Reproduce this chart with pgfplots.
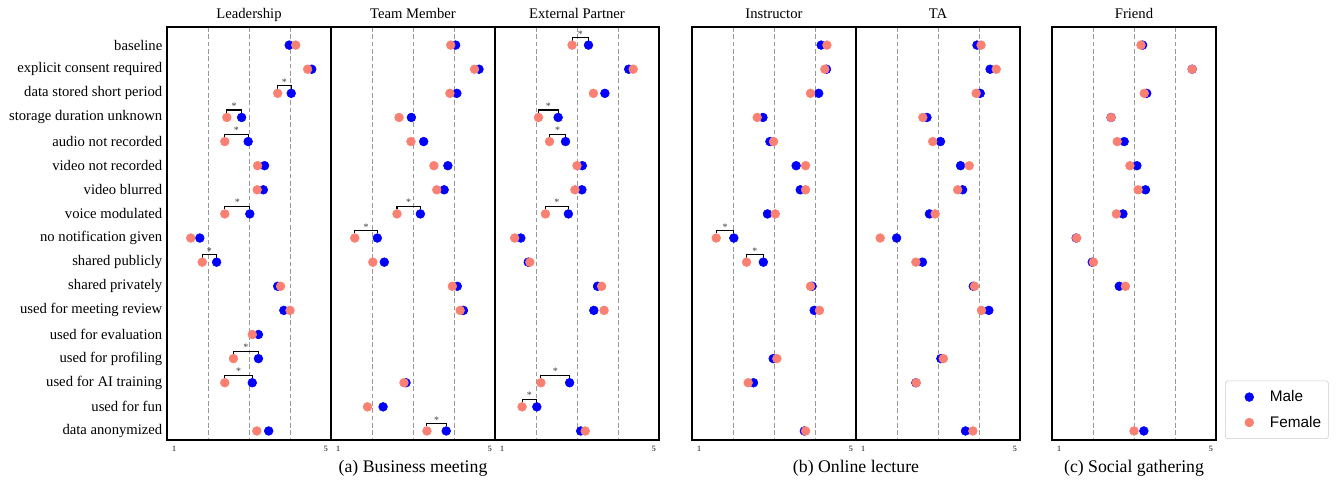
\documentclass[border=0pt]{standalone}
\usepackage{pgfplots}
\pgfplotsset{compat=1.18}
\usepackage{pgfplotstable}
\usepackage{fontspec}
\setmainfont{Liberation Serif}
\newfontfamily\legfont{Liberation Sans}
\definecolor{salmonc}{RGB}{250,128,114}

\pgfplotstableread{
r  lm   lf   tm   tf   em   ef   im   if   am   af   fm   ff
0  3.98 4.14 4.04 3.92 3.28 2.88 4.15 4.29 3.95 4.05 3.21 3.17
1  4.53 4.43 4.61 4.50 4.26 4.37 4.28 4.24 4.27 4.42 4.42 4.42
2  4.03 3.70 4.07 3.90 3.68 3.40 4.09 3.89 4.03 3.93 3.31 3.25
3  2.82 2.46 2.96 2.66 2.54 2.06 2.73 2.59 2.73 2.63 2.44 2.44
4  2.98 2.41 3.26 2.95 2.72 2.33 2.90 2.99 3.06 2.87 2.76 2.59
5  3.38 3.21 3.85 3.51 3.13 3.00 3.54 3.77 3.55 3.76 3.07 2.90
6  3.35 3.20 3.76 3.58 3.12 2.95 3.64 3.77 3.60 3.48 3.28 3.10
7  3.02 2.41 3.18 2.61 2.79 2.23 2.84 3.03 2.79 2.93 2.73 2.57
8  1.80 1.58 2.13 1.58 1.63 1.48 2.02 1.59 1.99 1.59 1.59 1.60
9  2.21 1.86 2.30 2.02 1.81 1.85 2.74 2.33 2.62 2.46 1.98 2.01
10 3.70 3.77 4.08 3.96 3.50 3.60 3.93 3.89 3.86 3.89 2.64 2.79
11 3.85 4.00 4.23 4.15 3.41 3.66 3.98 4.11 4.24 4.06 nan  nan
12 3.23 3.08 nan  nan  nan  nan  nan  nan  nan  nan  nan  nan
13 3.23 2.62 nan  nan  nan  nan  2.98 3.07 3.07 3.13 nan  nan
14 3.08 2.41 2.83 2.78 2.82 2.12 2.50 2.37 2.46 2.47 nan  nan
15 nan  nan  2.27 1.89 2.02 1.66 nan  nan  nan  nan  nan  nan
16 3.48 3.19 3.81 3.34 3.09 3.20 3.74 3.77 3.67 3.85 3.24 3.00
}\data

\newcommand{\sig}[3]{%
  \draw[black, line width=0.8pt] (axis cs:#2,{#1-0.19}) -- (axis cs:#2,{#1-0.31}) -- (axis cs:#3,{#1-0.31}) -- (axis cs:#3,{#1-0.19});
  \node[text=black!75, font=\fontsize{7.5}{8}\selectfont, inner sep=0pt, anchor=base] at (axis cs:{(#2+#3)/2},{#1-0.33}) {*};%
}

\pgfplotsset{
  panel/.style={
    scale only axis, width=123pt, height=309.75pt, anchor=north west,
    xmin=1, xmax=5, ymin=-0.75, ymax=16.375, y dir=reverse,
    xtick={2,3,4}, xticklabels={}, xmajorgrids,
    grid style={dash pattern=on 3.5pt off 2pt, black!40, line width=0.6pt},
    ytick=\empty, major tick length=0pt,
    axis line style={line width=0.9pt}, clip=false,
  },
  male/.style={only marks, mark=*, mark size=3.3pt, color=blue, mark options={draw=none, fill=blue}},
  female/.style={only marks, mark=*, mark size=3.3pt, color=salmonc, mark options={draw=none, fill=salmonc}},
}

\newcommand{\paneldeco}[2]{%
  \node[font=\fontsize{11}{13}\selectfont, anchor=base] at ([yshift=6.5pt]#1.north) {#2};
  \node[font=\fontsize{6}{7}\selectfont, anchor=north west, inner sep=0pt] at ([xshift=3.6pt,yshift=-4.4pt]#1.south west) {1};
  \node[font=\fontsize{6}{7}\selectfont, anchor=north east, inner sep=0pt] at ([xshift=-2.2pt,yshift=-4.4pt]#1.south east) {5};
}

\begin{document}
\begin{tikzpicture}
\path[use as bounding box] (0,0) rectangle (1003.5pt,-362.25pt);

% ---- (a) Business meeting ----
\begin{axis}[panel, name=p1, at={(125.25pt,-20.25pt)},
  ytick={0,...,16},
  yticklabels={baseline, explicit consent required, data stored short period, storage duration unknown, audio not recorded, video not recorded, video blurred, voice modulated, no notification given, shared publicly, shared privately, used for meeting review, used for evaluation, used for profiling, used for AI training, used for fun, data anonymized},
  yticklabel style={font=\fontsize{11}{13}\selectfont}]
\addplot[male] table[x=lm,y=r]{\data};
\addplot[female] table[x=lf,y=r]{\data};
\sig{2}{3.70}{4.03}
\sig{3}{2.46}{2.82}
\sig{4}{2.41}{2.98}
\sig{7}{2.41}{3.02}
\sig{9}{1.86}{2.21}
\sig{13}{2.62}{3.23}
\sig{14}{2.41}{3.08}
\end{axis}

\begin{axis}[panel, name=p2, at={(248.25pt,-20.25pt)}]
\addplot[male] table[x=tm,y=r]{\data};
\addplot[female] table[x=tf,y=r]{\data};
\sig{7}{2.61}{3.18}
\sig{8}{1.58}{2.13}
\sig{16}{3.34}{3.81}
\end{axis}

\begin{axis}[panel, name=p3, at={(371.25pt,-20.25pt)}]
\addplot[male] table[x=em,y=r]{\data};
\addplot[female] table[x=ef,y=r]{\data};
\sig{0}{2.88}{3.28}
\sig{3}{2.06}{2.54}
\sig{4}{2.33}{2.72}
\sig{7}{2.23}{2.79}
\sig{14}{2.12}{2.82}
\sig{15}{1.66}{2.02}
\end{axis}

% ---- (b) Online lecture ----
\begin{axis}[panel, name=p4, at={(519pt,-20.25pt)}]
\addplot[male] table[x=im,y=r]{\data};
\addplot[female] table[x=if,y=r]{\data};
\sig{8}{1.59}{2.02}
\sig{9}{2.33}{2.74}
\end{axis}

\begin{axis}[panel, name=p5, at={(642pt,-20.25pt)}]
\addplot[male] table[x=am,y=r]{\data};
\addplot[female] table[x=af,y=r]{\data};
\end{axis}

% ---- (c) Social gathering ----
\begin{axis}[panel, name=p6, at={(789pt,-20.25pt)},
  legend style={at={(1,0)}, anchor=south west, xshift=6.75pt, yshift=0.8pt, draw=black!20, rounded corners=2pt,
    font=\legfont\fontsize{11.5}{13}\selectfont, inner xsep=3.5pt, inner ysep=5.2pt, row sep=5.25pt},
  legend image code/.code={\path[draw=none,fill=none] (0pt,-3pt) rectangle (28pt,3pt); \draw[#1] plot coordinates {(14.5pt,0pt)};},
  legend cell align=left]
\addplot[male] table[x=fm,y=r]{\data};
\addlegendentry{Male}
\addplot[female] table[x=ff,y=r]{\data};
\addlegendentry{Female}
\end{axis}

\paneldeco{p1}{Leadership}
\paneldeco{p2}{Team Member}
\paneldeco{p3}{External Partner}
\paneldeco{p4}{Instructor}
\paneldeco{p5}{TA}
\paneldeco{p6}{Friend}

\node[font=\fontsize{13.3}{15}\selectfont, anchor=base] at (309.75pt,-354.5pt) {(a) Business meeting};
\node[font=\fontsize{13.3}{15}\selectfont, anchor=base] at (642pt,-354.5pt) {(b) Online lecture};
\node[font=\fontsize{13.3}{15}\selectfont, anchor=base] at (850.5pt,-354.5pt) {(c) Social gathering};
\end{tikzpicture}
\end{document}
